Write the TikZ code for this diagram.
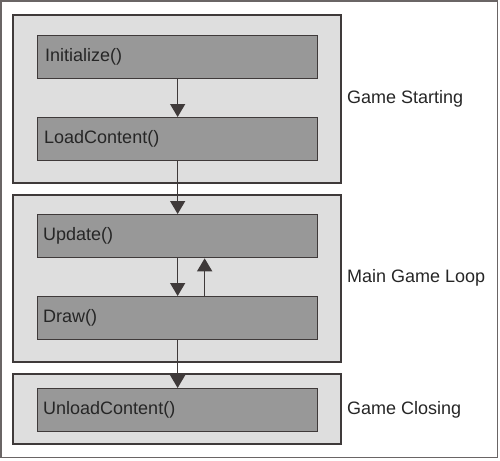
\documentclass[tikz,border=0pt]{standalone}
\usepackage{fontspec}
\setmainfont{Liberation Sans}
\usetikzlibrary{arrows.meta}
\definecolor{grpfill}{HTML}{DEDEDE}
\definecolor{boxfill}{HTML}{989898}
\definecolor{edge}{HTML}{3F3A3A}
\definecolor{frame}{HTML}{6A6565}
\begin{document}
\begin{tikzpicture}[x=1pt,y=-1pt,
  grp/.style={draw=edge,fill=grpfill,line width=1.3pt},
  fbox/.style={draw=edge,fill=boxfill,line width=1.3pt,minimum width=280pt,minimum height=43pt,inner sep=0pt,anchor=north west},
  btxt/.style={font=\fontsize{18}{21}\selectfont,text=black!85,anchor=west,inner sep=0pt},
  lbl/.style={font=\fontsize{18}{21}\selectfont,text=black!85,anchor=west,inner sep=0pt},
  arr/.style={draw=edge,line width=1.4pt,-{Triangle[width=15pt,length=13pt]}}]
\useasboundingbox (0,0) rectangle (500,460);
\draw[frame,line width=1.2pt] (1,1) rectangle (497.5,457.5);
% groups
\draw[grp] (13,15) rectangle (341,183);
\draw[grp] (13,195) rectangle (341,362);
\draw[grp] (13,374) rectangle (341,444);
% boxes
\node[fbox] (init) at (37,35) {};
\node[fbox] (load) at (37,117) {};
\node[fbox] (upd) at (37,214) {};
\node[fbox] (drw) at (37,296) {};
\node[fbox] (unl) at (37,388) {};
\node[btxt] at ([xshift=8pt]init.west) {Initialize()};
\node[btxt] at ([xshift=7pt]load.west) {LoadContent()};
\node[btxt] at ([xshift=6pt]upd.west) {Update()};
\node[btxt] at ([xshift=6pt]drw.west) {Draw()};
\node[btxt] at ([xshift=6pt]unl.west) {UnloadContent()};
% labels
\node[lbl] (l1) at (347,99) {Game Starting};
\node[lbl] (l2) at (347,278) {Main Game Loop};
\node[lbl] (l3) at (347,410) {Game Closing};
% arrows
\draw[arr] (init.south) -- (load.north);
\draw[arr] (load.south) -- (upd.north);
\draw[arr] (upd.south) -- (drw.north);
\draw[arr] ([xshift=27pt]drw.north) -- ([xshift=27pt]upd.south);
\draw[arr] (drw.south) -- (unl.north);
\end{tikzpicture}
\end{document}
